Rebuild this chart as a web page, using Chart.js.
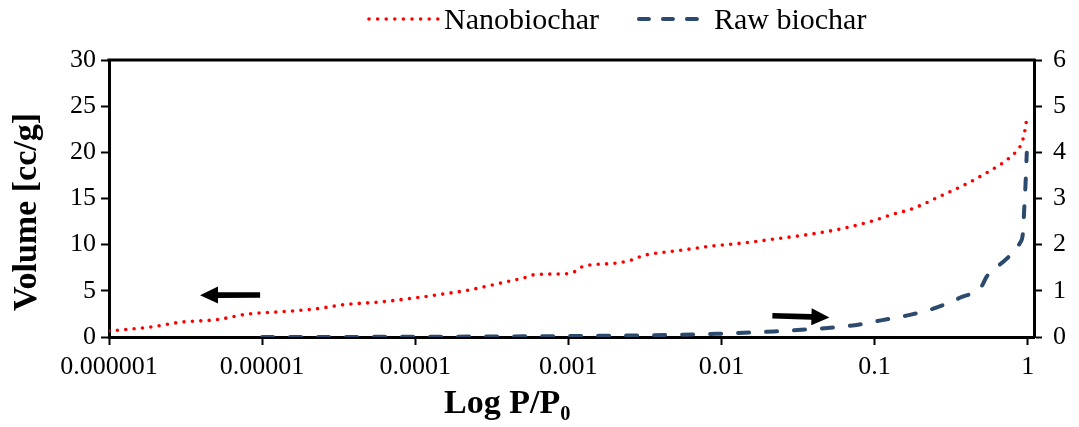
<!DOCTYPE html>
<html><head><meta charset="utf-8">
<script src="https://cdn.jsdelivr.net/npm/chart.js@4/dist/chart.umd.min.js"></script>
<style>html,body{margin:0;padding:0;background:#fff}#wrap{width:1079px;height:427px}</style>
</head><body><div id="wrap"><canvas id="c" width="1079" height="427"></canvas></div>
<script>
// ---- data ----
const seriesNames = ['Nanobiochar', 'Raw biochar'];
const nanoX = [0.000001, 0.00000186, 0.0000030, 0.0000050, 0.0000081, 0.0000135, 0.000022, 0.0000355, 0.000059, 0.000098,
  0.000138, 0.000229, 0.00037, 0.00054, 0.00060, 0.00087, 0.00098, 0.00112, 0.00123, 0.00138,
  0.00204, 0.00257, 0.00288, 0.00324, 0.0053, 0.0087, 0.0141, 0.0234, 0.038, 0.062,
  0.098, 0.126, 0.18, 0.28, 0.40, 0.55, 0.68, 0.82, 0.89, 0.93, 0.957, 0.977, 0.986];
const nanoY = [0.65, 1.08, 1.62, 1.87, 2.49, 2.74, 3.03, 3.53, 3.79, 4.22,
  4.55, 5.12, 5.88, 6.5, 6.75, 6.82, 6.85, 7.14, 7.6, 7.79,
  8.0, 8.33, 8.65, 8.9, 9.37, 9.85, 10.2, 10.66, 11.13, 11.75,
  12.6, 13.2, 13.95, 15.4, 16.6, 17.87, 18.8, 19.89, 20.6, 21.4, 22.3, 23.2, 24.1];
const rawX = [0.00001, 0.0001, 0.001, 0.003, 0.0093, 0.022, 0.035, 0.072, 0.11, 0.17,
  0.25, 0.36, 0.50, 0.54, 0.72, 0.89, 0.93, 0.946, 0.966, 0.986];
const rawY = [0.0, 0.005, 0.02, 0.035, 0.07, 0.12, 0.16, 0.25, 0.36, 0.48,
  0.63, 0.85, 1.10, 1.31, 1.68, 2.04, 2.25, 2.69, 3.26, 3.99];
const xTickValues = [0.000001, 0.00001, 0.0001, 0.001, 0.01, 0.1, 1];
const xTickLabels = ['0.000001', '0.00001', '0.0001', '0.001', '0.01', '0.1', '1'];
const leftTickValues = [0, 5, 10, 15, 20, 25, 30];
const rightTickValues = [0, 1, 2, 3, 4, 5, 6];
const xTitle = 'Log P/P\u2080';
const yTitle = 'Volume [cc/g]';
// annotation arrows: [tailX, tailY, tipX, tipY, axis]
const arrows = [
  [0.0000097, 4.55, 0.00000393, 4.53, 'y'],
  [0.0215, 0.46, 0.0507, 0.425, 'y2']
];

const SERIF = "'Liberation Serif', 'Times New Roman', serif";

const decorPlugin = {
  id: 'decor',
  afterDraw(chart) {
    const ctx = chart.ctx, a = chart.chartArea;
    ctx.save();
    // top border of plot area
    ctx.strokeStyle = '#000'; ctx.lineWidth = 3;
    ctx.beginPath(); ctx.moveTo(a.left - 1.5, a.top); ctx.lineTo(a.right + 1.5, a.top); ctx.stroke();
    // arrows
    const xs = chart.scales.x;
    ctx.fillStyle = '#000';
    arrows.forEach(([x1, y1, x2, y2, ax]) => {
      const ys = chart.scales[ax];
      const px1 = xs.getPixelForValue(x1), py1 = ys.getPixelForValue(y1);
      const px2 = xs.getPixelForValue(x2), py2 = ys.getPixelForValue(y2);
      const ang = Math.atan2(py2 - py1, px2 - px1);
      const len = Math.hypot(px2 - px1, py2 - py1);
      const hl = 18, hw = 8.5, sw = 2.8;
      ctx.save();
      ctx.translate(px1, py1); ctx.rotate(ang);
      ctx.beginPath();
      ctx.moveTo(0, -sw); ctx.lineTo(len - hl, -sw); ctx.lineTo(len - hl, -hw);
      ctx.lineTo(len, 0); ctx.lineTo(len - hl, hw); ctx.lineTo(len - hl, sw); ctx.lineTo(0, sw);
      ctx.closePath(); ctx.fill();
      ctx.restore();
    });
    // legend
    ctx.font = '30px ' + SERIF;
    ctx.textBaseline = 'alphabetic';
    ctx.textAlign = 'left';
    let lx = 368;
    const ly = 19;
    chart.data.datasets.forEach((ds) => {
      ctx.save();
      ctx.strokeStyle = ds.borderColor; ctx.lineWidth = ds.borderWidth;
      ctx.lineCap = ds.borderCapStyle; ctx.setLineDash(ds.legendDash || ds.borderDash);
      ctx.beginPath(); ctx.moveTo(lx + 1, ly); ctx.lineTo(lx + 70, ly); ctx.stroke();
      ctx.restore();
      ctx.fillStyle = '#000';
      ctx.fillText(ds.label, lx + 76, 29);
      lx += 76 + ctx.measureText(ds.label).width + 39;
    });
    // axis titles
    ctx.font = 'bold 34px ' + SERIF;
    ctx.fillStyle = '#000';
    ctx.textAlign = 'left';
    ctx.fillText(xTitle, 444, 413);
    ctx.save();
    ctx.translate(36, 212); ctx.rotate(-Math.PI / 2);
    ctx.textAlign = 'center';
    ctx.fillText(yTitle, 0, 0);
    ctx.restore();
    ctx.restore();
  }
};

const tickFont = { family: SERIF, size: 26 };
const axisGrid = { display: true, drawOnChartArea: false, drawTicks: true, tickLength: 8, tickWidth: 2, tickColor: '#000' };
const axisBorder = { display: true, color: '#000', width: 3 };

new Chart(document.getElementById('c'), {
  type: 'line',
  data: {
    datasets: [
      {
        label: seriesNames[0],
        data: nanoX.map((x, i) => ({ x, y: nanoY[i] })),
        yAxisID: 'y',
        borderColor: '#FF0000', borderWidth: 3.6, borderDash: [0, 8.4], legendDash: [0, 8.6], borderCapStyle: 'round',
        pointRadius: 0, cubicInterpolationMode: 'monotone', fill: false
      },
      {
        label: seriesNames[1],
        data: rawX.map((x, i) => ({ x, y: rawY[i] })),
        yAxisID: 'y2',
        borderColor: '#2B4A6D', borderWidth: 4, borderDash: [11, 17], legendDash: [10, 14], borderCapStyle: 'round',
        pointRadius: 0, cubicInterpolationMode: 'monotone', fill: false
      }
    ]
  },
  options: {
    responsive: false, animation: false, devicePixelRatio: 1,
    layout: { padding: { top: 60, left: 0, right: 0, bottom: 0 } },
    plugins: { legend: { display: false }, tooltip: { enabled: false } },
    scales: {
      x: {
        type: 'logarithmic', position: 'bottom', min: 0.000001, max: 1.099,
        afterBuildTicks: (s) => { s.ticks = xTickValues.map(v => ({ value: v })); },
        afterFit: (s) => { s.height = 90; },
        ticks: { font: tickFont, color: '#000', padding: 7, maxRotation: 0, autoSkip: false,
          callback: (v) => { const i = xTickValues.findIndex(t => Math.abs(t - v) / t < 1e-6); return i >= 0 ? xTickLabels[i] : ''; } },
        grid: axisGrid, border: axisBorder
      },
      y: {
        position: 'left', min: 0, max: 30,
        afterBuildTicks: (s) => { s.ticks = leftTickValues.map(v => ({ value: v })); },
        afterFit: (s) => { s.width = 109; },
        ticks: { font: tickFont, color: '#000', padding: 5, callback: (v) => String(v) },
        grid: axisGrid, border: axisBorder
      },
      y2: {
        position: 'right', min: 0, max: 6,
        afterBuildTicks: (s) => { s.ticks = rightTickValues.map(v => ({ value: v })); },
        afterFit: (s) => { s.width = 45; },
        ticks: { font: tickFont, color: '#000', padding: 11, callback: (v) => String(v) },
        grid: axisGrid, border: axisBorder
      }
    }
  },
  plugins: [decorPlugin]
});
</script>
</body></html>
